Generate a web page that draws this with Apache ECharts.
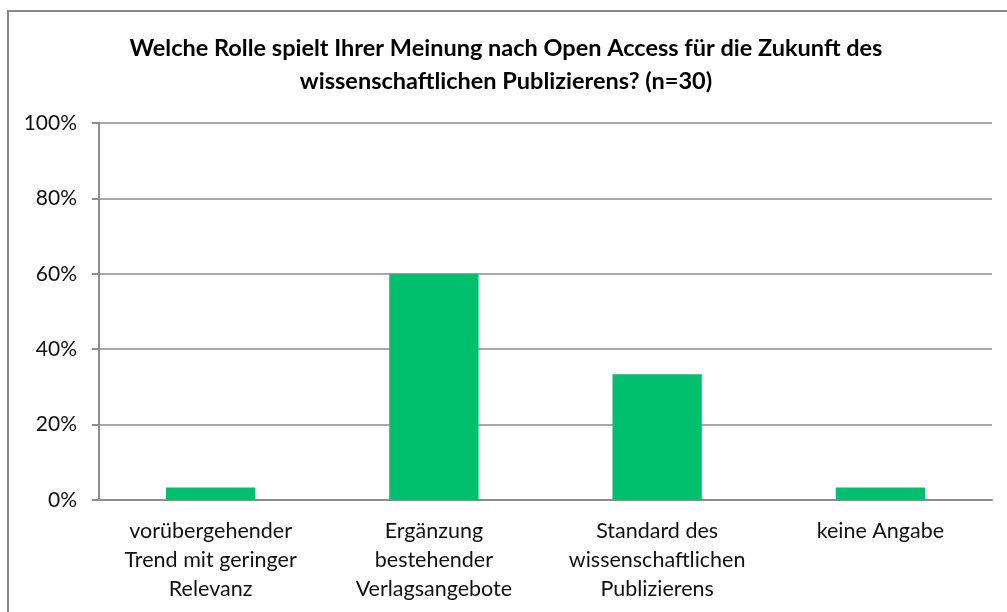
<!DOCTYPE html>
<html>
<head>
<meta charset="utf-8">
<script src="https://cdn.jsdelivr.net/npm/echarts@6/dist/echarts.min.js"></script>
<style>
  html, body { margin: 0; padding: 0; background: #fff; }
  #chart { width: 1007px; height: 612px; }
</style>
</head>
<body>
<div id="chart"></div>
<script>
// Antworten (n=30)
var categories = [
    "vorübergehender\nTrend mit geringer\nRelevanz",
    "Ergänzung\nbestehender\nVerlagsangebote",
    "Standard des\nwissenschaftlichen\nPublizierens",
    "keine Angabe"
];
var shares = [3.33, 60, 33.33, 3.33];
var yTicks = [0, 20, 40, 60, 80, 100];

var chart = echarts.init(document.getElementById('chart'));
var font = 'Lato, "Open Sans", sans-serif';

chart.setOption({
    animation: false,
    backgroundColor: '#ffffff',
    title: {
        text: 'Welche Rolle spielt Ihrer Meinung nach Open Access für die Zukunft des\nwissenschaftlichen Publizierens? (n=30)',
        left: 501,
        textAlign: 'center',
        top: 27,
        textStyle: {
            fontFamily: font,
            fontWeight: 'bold',
            fontSize: 23.5,
            lineHeight: 33,
            color: '#000'
        }
    },
    // äußerer Rahmen
    graphic: [{
        type: 'rect',
        shape: { x: 8, y: 11, width: 1100, height: 700 },
        style: { fill: 'none', stroke: '#8a8a8a', lineWidth: 2 }
    }],
    grid: {
        left: 99,
        right: 15,
        top: 123,
        bottom: 112
    },
    xAxis: {
        type: 'category',
        data: categories,
        axisLine: { lineStyle: { color: '#8c8c8c', width: 2 } },
        axisTick: { length: 7, lineStyle: { color: '#8c8c8c', width: 2 } },
        axisLabel: {
            interval: 0,
            margin: 17,
            fontFamily: font,
            fontSize: 21.5,
            lineHeight: 29,
            color: '#111'
        }
    },
    yAxis: {
        type: 'value',
        min: yTicks[0],
        max: yTicks[yTicks.length - 1],
        interval: 20,
        axisLine: { show: true, lineStyle: { color: '#8c8c8c', width: 2 } },
        axisTick: { show: true, length: 7, lineStyle: { color: '#8c8c8c', width: 2 } },
        splitLine: { lineStyle: { color: '#8c8c8c', width: 1.5 } },
        axisLabel: {
            margin: 22,
            fontFamily: font,
            fontSize: 21,
            color: '#111',
            formatter: '{value}%'
        }
    },
    series: [{
        type: 'bar',
        data: shares,
        barWidth: '40%',
        itemStyle: { color: '#00bf6f' }
    }]
});
</script>
</body>
</html>
